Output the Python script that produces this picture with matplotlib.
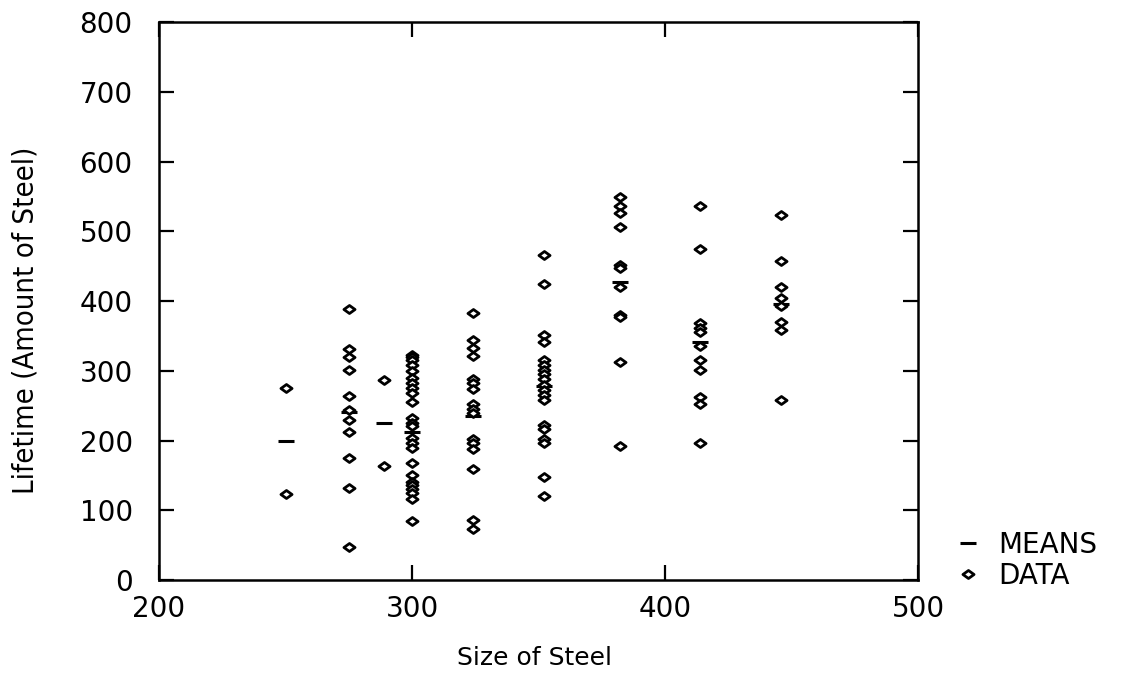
import numpy as np
import matplotlib.pyplot as plt
from matplotlib.path import Path

# group positions (size of steel) and observed lifetimes
sizes = [250, 275, 289, 300, 324, 352, 382, 414, 446]

g250 = [276, 124]
g275 = [389, 332, 320, 301, 264, 244, 230, 213, 175, 132, 48]
g289 = [287, 163]
g300 = [323, 320, 316, 308, 300, 290, 283, 276, 268, 255, 232, 226, 221,
        204, 197, 190, 168, 151, 140, 136, 130, 125, 116, 85]
g324 = [383, 345, 333, 322, 288, 282, 274, 252, 246, 240, 203, 196, 188,
        159, 86, 74]
g352 = [466, 424, 352, 342, 316, 309, 302, 295, 288, 280, 273, 266, 259,
        222, 216, 202, 197, 148, 121]
g382 = [549, 536, 526, 506, 452, 448, 421, 380, 377, 313, 192]
g414 = [537, 475, 369, 361, 356, 336, 315, 301, 262, 253, 196]
g446 = [524, 457, 421, 404, 393, 370, 359, 259]

groups = [g250, g275, g289, g300, g324, g352, g382, g414, g446]
means = [199, 241, 225, 212, 236, 278, 427, 341, 396]

diamond = Path([(-1, 0), (0, 0.72), (1, 0), (0, -0.72), (-1, 0)],
               [Path.MOVETO, Path.LINETO, Path.LINETO, Path.LINETO, Path.CLOSEPOLY])

fig = plt.figure(figsize=(11.32, 6.73), dpi=100)
ax = fig.add_axes([0.1405, 0.138, 0.6705, 0.829])

xs = np.concatenate([[s] * len(g) for s, g in zip(sizes, groups)])
ys = np.concatenate(groups)

ax.plot(sizes, means, linestyle='none', marker='_', color='black',
        markersize=12, markeredgewidth=2.2, label='MEANS')
ax.plot(xs, ys, linestyle='none', marker=diamond, markerfacecolor='white',
        markeredgecolor='black', markersize=8, markeredgewidth=2.0, label='DATA')

ax.set_xlim(200, 500)
ax.set_ylim(0, 800)
ax.set_xticks([200, 300, 400, 500])
ax.set_yticks(range(0, 801, 100))

for sp in ax.spines.values():
    sp.set_linewidth(1.8)

ax.tick_params(direction='in', length=11, width=1.6, top=True, right=True,
               labelsize=20, colors='black')
ax.tick_params(axis='y', pad=19)
ax.tick_params(axis='x', pad=11)

ax.set_xlabel('Size of Steel', fontsize=18)
ax.xaxis.set_label_coords(0.495, -0.118)
ax.set_ylabel('Lifetime (Amount of Steel)', fontsize=21, fontstretch='condensed',
              family=['DejaVu Sans'])
ax.yaxis.set_label_coords(-0.157, 0.466)

ax.legend(loc='center left', bbox_to_anchor=(0.843, 0.167),
          bbox_transform=fig.transFigure, frameon=False,
          fontsize=20, handlelength=1.0, handletextpad=0.6, labelspacing=0.1,
          borderaxespad=0, borderpad=0)

fig.savefig('out.png', dpi=100)
